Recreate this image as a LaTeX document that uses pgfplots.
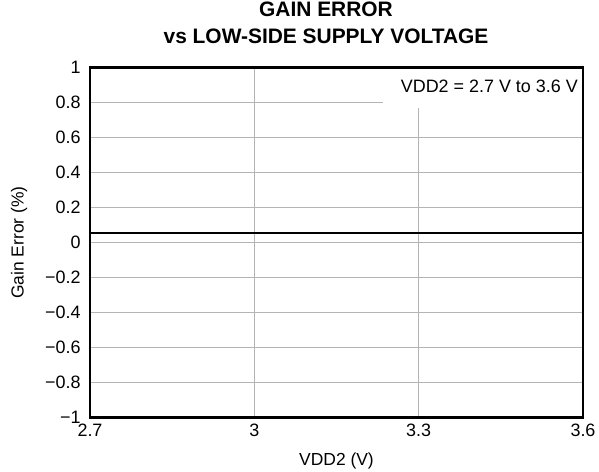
\documentclass[border=0pt]{standalone}
\usepackage{fontspec}
\setmainfont{Liberation Sans}
\usepackage{pgfplots}
\pgfplotsset{compat=1.18}
\definecolor{gridgray}{HTML}{B4B4B4}
\begin{document}
\begin{tikzpicture}
\begin{axis}[
  scale only axis,
  width=493bp, height=350bp,
  xmin=2.7, xmax=3.6, ymin=-1, ymax=1,
  xtick={2.7,3,3.3,3.6},
  xticklabels={2.7,3,3.3,3.6},
  ytick={-1,-0.8,-0.6,-0.4,-0.2,0,0.2,0.4,0.6,0.8,1},
  yticklabels={−1,−0.8,−0.6,−0.4,−0.2,0,0.2,0.4,0.6,0.8,1},
  major tick length=0pt,
  grid=major,
  major grid style={draw=gridgray, line width=1bp},
  axis line style={line width=2.2bp},
  tick label style={font=\fontsize{18}{21}\selectfont},
  yticklabel style={xshift=-6bp},
  xticklabel style={yshift=-3bp},
  xlabel={VDD2 (V)},
  ylabel={Gain Error (\%)},
  label style={font=\fontsize{17.5}{20}\selectfont},
  xlabel style={at={(axis description cs:0.5,0)}, anchor=base, yshift=-47.5bp, inner sep=0pt},
  ylabel style={yshift=11bp},
  title={GAIN ERROR\\vs LOW-SIDE SUPPLY VOLTAGE},
  title style={font=\bfseries\fontsize{21}{26.5}\selectfont, align=center,
    at={(axis description cs:0.4787,1)}, anchor=south, inner sep=0pt, yshift=18bp},
  clip=false,
]
\fill[white] (axis cs:3.235,0.769) rectangle ([xshift=-1.2bp,yshift=-1.2bp]axis cs:3.6,1);
\node[anchor=base east, font=\fontsize{18}{21}\selectfont, inner sep=0pt] at ([xshift=-5bp,yshift=-25.5bp]axis cs:3.6,1) {VDD2 = 2.7 V to 3.6 V};
\addplot[black, line width=2.2bp] coordinates {(2.7,0.052) (3.6,0.052)};
\coordinate (O) at (rel axis cs:0,0);
\end{axis}
\pgfresetboundingbox
\path ([shift={(-90bp,-54.5bp)}]O) rectangle ++(599bp,472bp);
\end{tikzpicture}
\end{document}
